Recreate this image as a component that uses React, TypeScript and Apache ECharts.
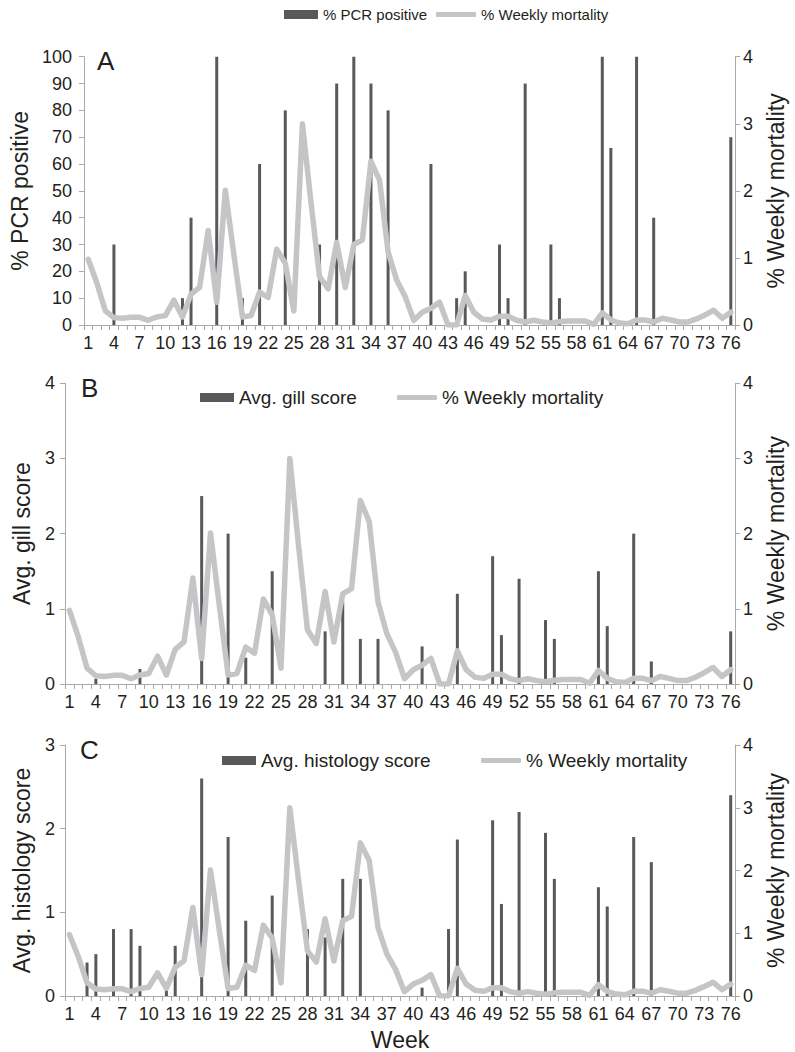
import React, { useEffect, useRef } from "react";
import * as echarts from "echarts";

const weeks = Array.from({ length: 76 }, (_, i) => String(i + 1));

const mortality = [
  0.98, 0.63, 0.21, 0.11, 0.1, 0.115, 0.115, 0.07, 0.12, 0.14,
  0.37, 0.12, 0.46, 0.56, 1.41, 0.34, 2.01, 1.05, 0.12, 0.14,
  0.49, 0.41, 1.13, 0.92, 0.21, 3.0, 1.83, 0.72, 0.54, 1.23,
  0.56, 1.2, 1.27, 2.44, 2.16, 1.09, 0.67, 0.42, 0.07, 0.19,
  0.25, 0.34, 0.0, 0.0, 0.44, 0.19, 0.09, 0.075, 0.13, 0.13,
  0.07, 0.045, 0.07, 0.045, 0.03, 0.05, 0.06, 0.06, 0.06, 0.01,
  0.18, 0.075, 0.03, 0.02, 0.075, 0.075, 0.045, 0.1, 0.075, 0.045,
  0.045, 0.09, 0.15, 0.22, 0.1, 0.19,
];

const pcrWeeks = [4, 12, 13, 16, 19, 21, 24, 28, 30, 32, 34, 36, 41, 44, 45, 49, 50, 52, 55, 56, 61, 62, 65, 67, 76];
const pcrValues = [30, 10, 40, 100, 10, 60, 80, 30, 90, 100, 90, 80, 60, 10, 20, 30, 10, 90, 30, 10, 100, 66, 100, 40, 70];

const gillWeeks = [4, 9, 16, 19, 21, 24, 30, 32, 34, 36, 41, 45, 49, 50, 52, 55, 56, 61, 62, 65, 67, 76];
const gillValues = [0.07, 0.2, 2.5, 2.0, 0.35, 1.5, 0.7, 1.1, 0.6, 0.6, 0.5, 1.2, 1.7, 0.65, 1.4, 0.85, 0.6, 1.5, 0.77, 2.0, 0.3, 0.7];

const histWeeks = [3, 4, 6, 8, 9, 12, 13, 16, 19, 21, 24, 28, 30, 32, 34, 41, 44, 45, 49, 50, 52, 55, 56, 61, 62, 65, 67, 76];
const histValues = [0.4, 0.5, 0.8, 0.8, 0.6, 0.12, 0.6, 2.6, 1.9, 0.9, 1.2, 0.8, 0.7, 1.4, 1.4, 0.1, 0.8, 1.87, 2.1, 1.1, 2.2, 1.95, 1.4, 1.3, 1.07, 1.9, 1.6, 2.4];

const BAR = "#59595b";
const LINE = "#c4c5c7";
const AXIS = "#a9a9a9";
const TEXT = "#231f20";
const FONT = "'Liberation Sans', Arial, Helvetica, sans-serif";
const TITLE_SIZE = 23;

function toSeries(ws: number[], vs: number[]) {
  const out: (number | null)[] = weeks.map(() => null);
  ws.forEach((w, i) => {
    out[w - 1] = vs[i];
  });
  return out;
}

const grids = [
  { left: 82.5, right: 54, top: 56.7, height: 268.3 },
  { left: 65, right: 54, top: 383.3, height: 300.7 },
  { left: 65, right: 54, top: 745, height: 251 },
];

function xAxis(gridIndex: number, withName: boolean) {
  return {
    type: "category",
    gridIndex,
    data: weeks,
    boundaryGap: true,
    axisLine: { show: true, lineStyle: { color: AXIS, width: 1 } },
    axisTick: { show: true, interval: 0, length: 5, lineStyle: { color: AXIS } },
    axisLabel: { interval: 2, color: TEXT, fontSize: 18, fontFamily: FONT, margin: 9 },
    splitLine: { show: false },
    name: withName ? "Week" : "",
    nameLocation: "middle",
    nameGap: 32,
    nameTextStyle: { color: TEXT, fontSize: TITLE_SIZE, fontFamily: FONT },
  };
}

function yAxis(gridIndex: number, position: "left" | "right", max: number, interval: number, name: string, nameGap: number, labelMargin: number) {
  return {
    type: "value",
    gridIndex,
    position,
    min: 0,
    max,
    interval,
    axisLine: { show: true, lineStyle: { color: AXIS, width: 1 } },
    axisTick: { show: true, length: 5, lineStyle: { color: AXIS } },
    axisLabel: { color: TEXT, fontSize: 18, fontFamily: FONT, margin: labelMargin },
    splitLine: { show: false },
    name,
    nameLocation: "middle",
    nameRotate: 90,
    nameGap,
    nameTextStyle: { color: TEXT, fontSize: TITLE_SIZE, fontFamily: FONT },
  };
}

function legend(name: string, left: number, top: number, isLine: boolean, fontSize: number) {
  return {
    data: [{ name, icon: isLine ? "roundRect" : "rect" }],
    left,
    top,
    padding: 0,
    itemWidth: isLine ? 40 : 34,
    itemHeight: isLine ? 5 : 9,
    itemStyle: isLine ? { color: LINE } : { color: BAR },
    textStyle: { color: TEXT, fontSize, fontFamily: FONT },
    selectedMode: false,
  };
}

function barSeries(name: string, idx: number, data: (number | null)[]) {
  return {
    type: "bar",
    name,
    xAxisIndex: idx,
    yAxisIndex: idx * 2,
    data,
    barWidth: 3,
    itemStyle: { color: BAR },
    z: 2,
  };
}

function lineSeries(idx: number) {
  return {
    type: "line",
    name: "% Weekly mortality",
    xAxisIndex: idx,
    yAxisIndex: idx * 2 + 1,
    data: mortality,
    symbol: "none",
    showSymbol: false,
    lineStyle: { color: LINE, width: 5.5, cap: "round", join: "round" },
    itemStyle: { color: LINE },
    z: 3,
  };
}

export default function App() {
  const ref = useRef<HTMLDivElement>(null);
  useEffect(() => {
    document.body.style.margin = "0";
    if (!ref.current) return;
    const chart = echarts.init(ref.current, null, { renderer: "svg" });
    const option: any = {
      animation: false,
      backgroundColor: "#ffffff",
      textStyle: { fontFamily: FONT },
      grid: grids,
      xAxis: [xAxis(0, false), xAxis(1, false), xAxis(2, true)],
      yAxis: [
        yAxis(0, "left", 100, 10, "% PCR positive", 50, 12),
        yAxis(0, "right", 4, 1, "% Weekly mortality", 22, 8),
        yAxis(1, "left", 4, 1, "Avg. gill score", 32, 10),
        yAxis(1, "right", 4, 1, "% Weekly mortality", 22, 8),
        yAxis(2, "left", 3, 1, "Avg. histology score", 32, 10),
        yAxis(2, "right", 4, 1, "% Weekly mortality", 22, 8),
      ],
      legend: [
        legend("% PCR positive", 284, 7, false, 15),
        legend("% Weekly mortality", 436, 7, true, 15),
        legend("Avg. gill score", 200, 388, false, 19),
        legend("% Weekly mortality", 397, 388, true, 19),
        legend("Avg. histology score", 222, 751, false, 19),
        legend("% Weekly mortality", 481, 751, true, 19),
      ],
      graphic: [
        { type: "text", left: 97, top: 48, style: { text: "A", fontSize: 26, fontFamily: FONT, fill: TEXT } },
        { type: "text", left: 81, top: 375, style: { text: "B", fontSize: 26, fontFamily: FONT, fill: TEXT } },
        { type: "text", left: 80, top: 737, style: { text: "C", fontSize: 26, fontFamily: FONT, fill: TEXT } },
      ],
      series: [
        barSeries("% PCR positive", 0, toSeries(pcrWeeks, pcrValues)),
        lineSeries(0),
        barSeries("Avg. gill score", 1, toSeries(gillWeeks, gillValues)),
        lineSeries(1),
        barSeries("Avg. histology score", 2, toSeries(histWeeks, histValues)),
        lineSeries(2),
      ],
    };
    chart.setOption(option);
    return () => chart.dispose();
  }, []);
  return <div ref={ref} style={{ width: 795, height: 1052 }} />;
}
